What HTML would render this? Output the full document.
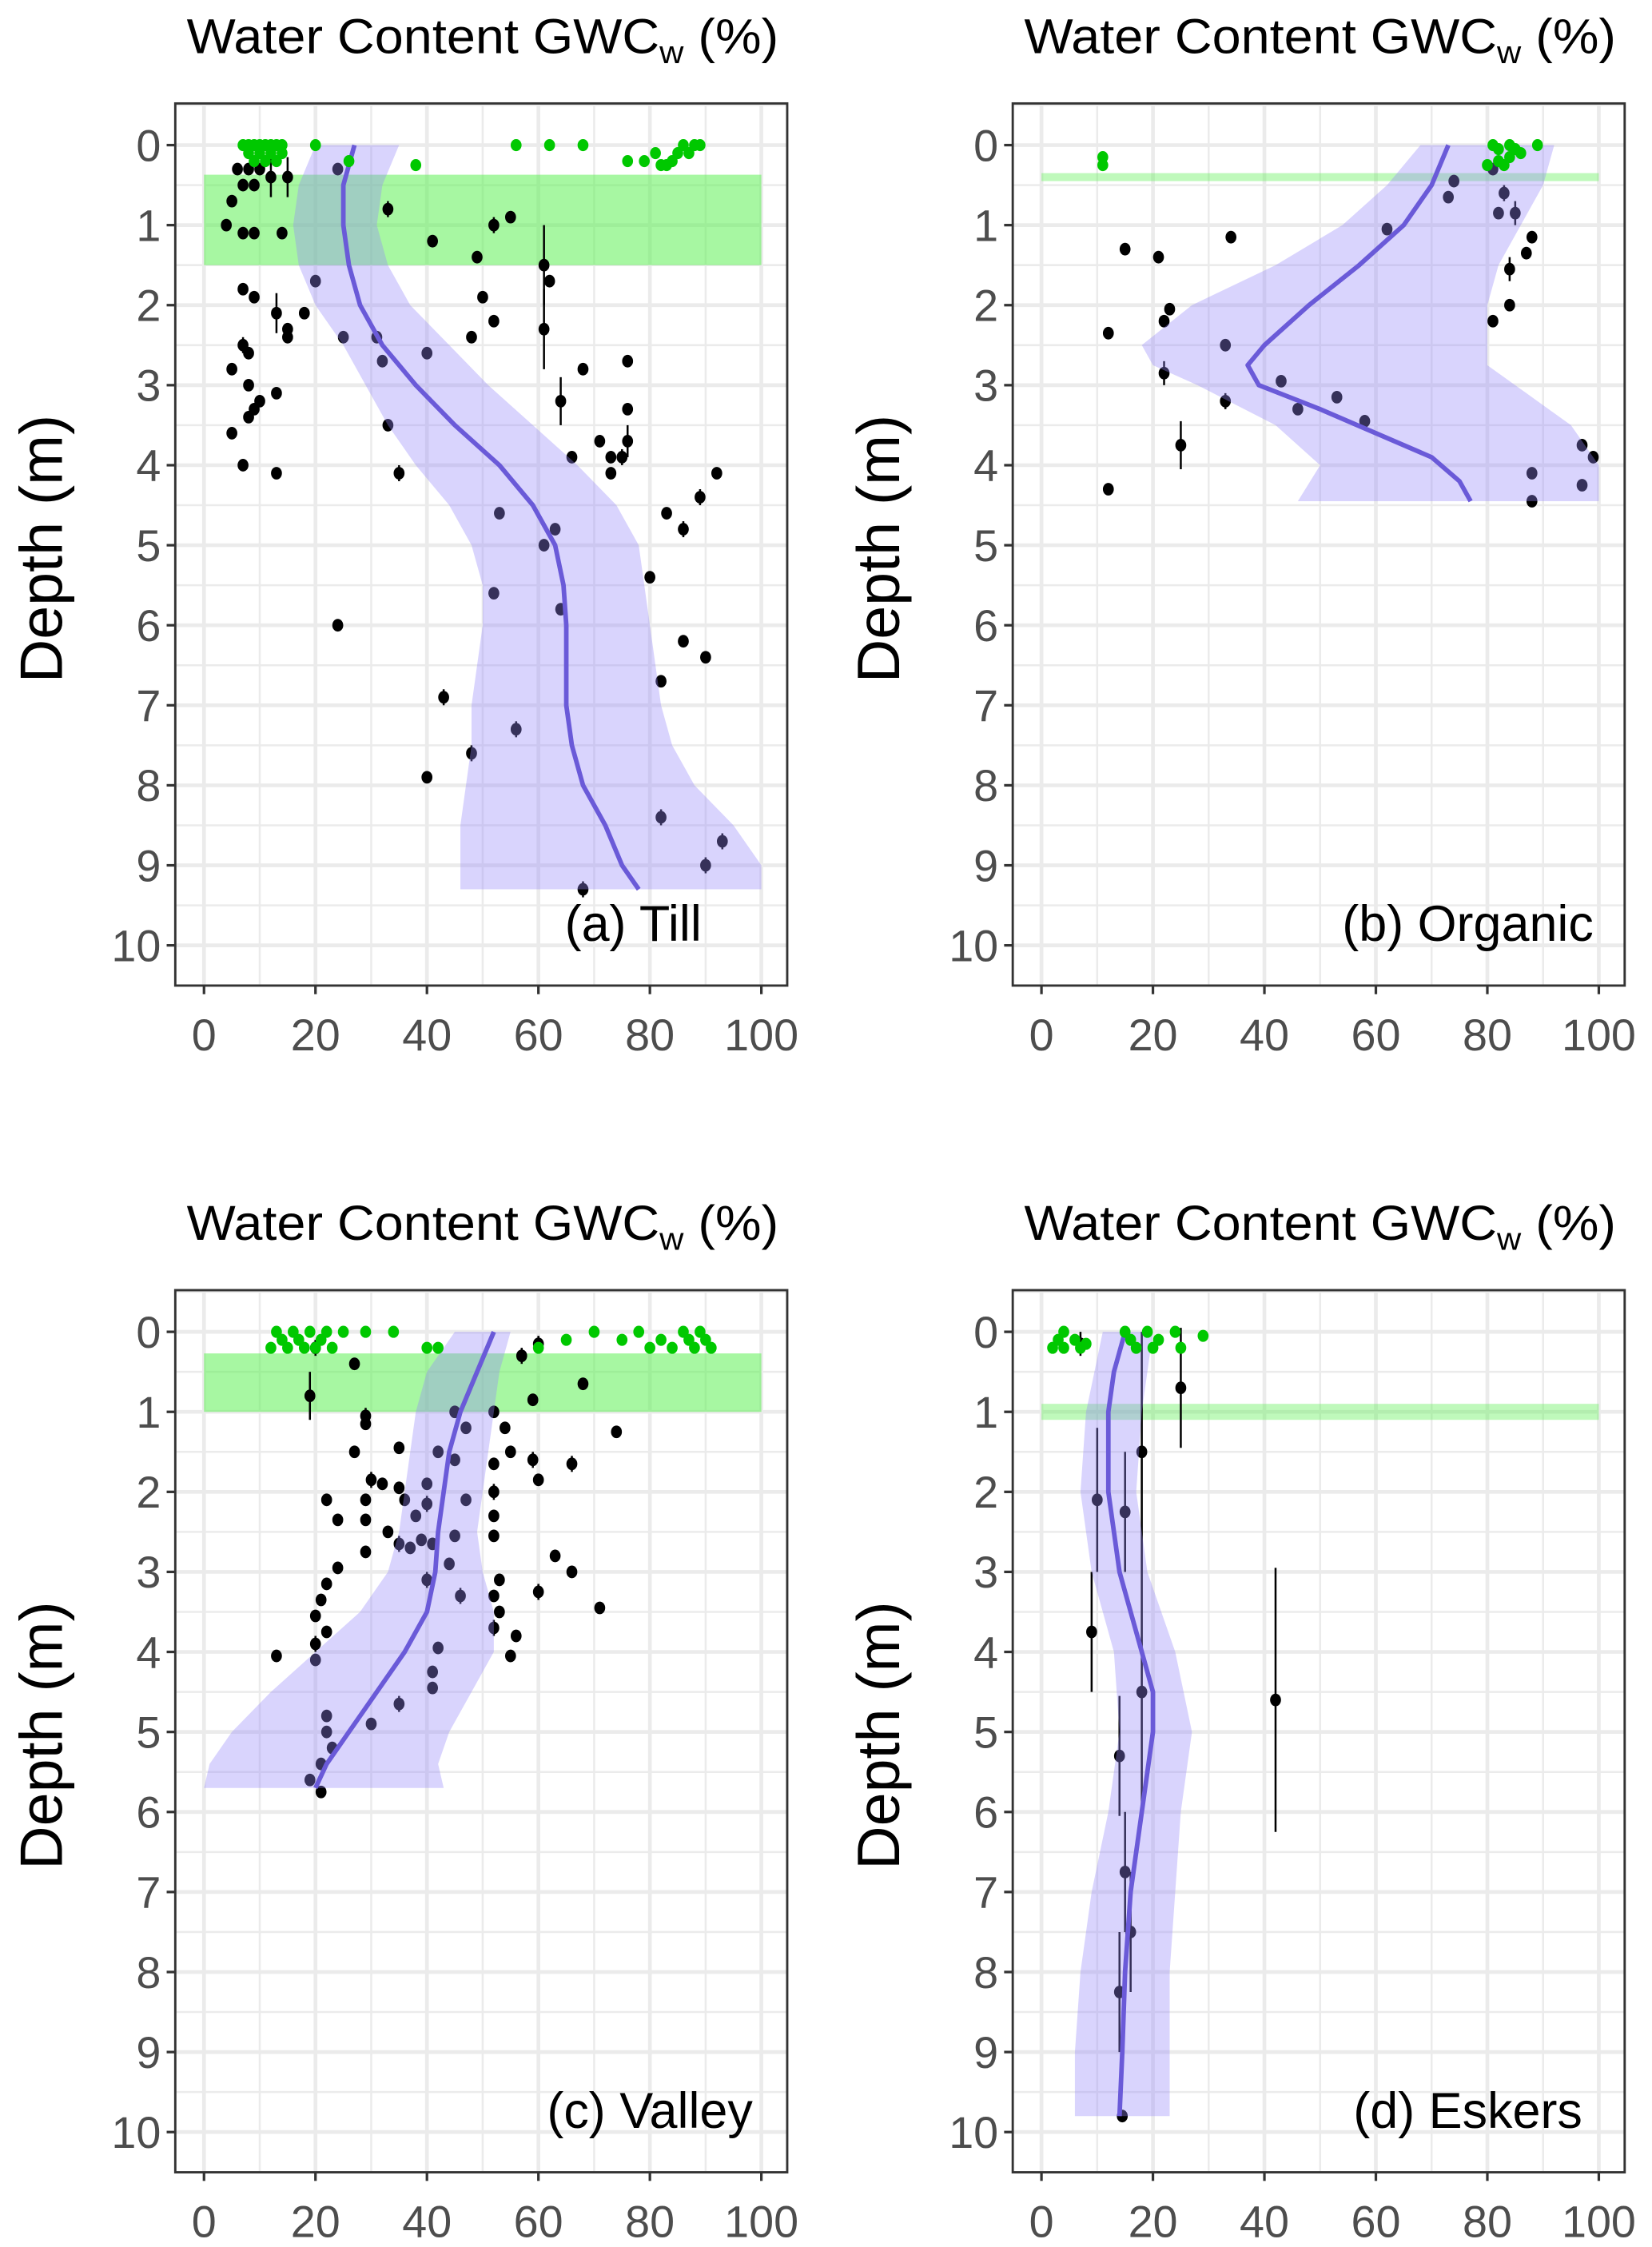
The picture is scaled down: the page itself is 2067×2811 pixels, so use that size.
<!DOCTYPE html>
<html><head><meta charset="utf-8"><style>
html,body{margin:0;padding:0;background:#fff;}
svg{display:block;}
text{font-family:"Liberation Sans",sans-serif;}
</style></head><body>
<svg id="fig" width="2067" height="2811" viewBox="0 0 1150 1564" xmlns="http://www.w3.org/2000/svg"></svg>
<script>
// ---- Panel (a) Till ----
const tillDepth = [0.3,0.3,0.3,0.4,0.7,0.5,0.5,0.4,1.0,1.1,1.1,1.1,0.3,0.8,1.2,1.4,1.0,0.9,1.5,1.7,2.3,1.8,1.9,2.1,2.3,2.4,2.1,1.7,2.4,2.4,2.7,2.6,2.4,1.9,2.2,2.5,2.6,2.8,3.0,3.3,3.2,3.1,3.4,3.6,4.0,4.1,3.5,4.1,3.2,2.8,2.7,3.3,3.7,3.7,3.9,3.9,3.9,4.1,4.1,4.4,4.6,4.8,4.6,5.0,4.8,5.4,5.6,5.8,6.0,6.2,6.4,6.7,6.9,7.3,7.6,7.9,8.4,8.7,9.0,9.3];
const tillGWC = [6,8,10,12,5,7,9,15,4,7,9,14,24,33,41,49,52,55,61,62,61,7,9,13,15,15,18,20,25,31,32,40,48,50,52,7,8,5,8,9,10,13,8,5,7,13,33,35,64,68,76,76,76,71,73,75,66,73,92,89,83,86,53,61,63,80,52,64,24,86,90,82,43,56,48,40,82,93,90,68];
const tillErr = [0,0,0,0.25,0,0,0,0.25,0,0,0,0,0,0.1,0,0,0.1,0,0.5,0,0.5,0,0,0.25,0,0,0,0,0,0,0,0,0,0,0,0.1,0,0,0,0,0,0,0,0,0,0,0,0.1,0.3,0,0,0,0.2,0,0,0.1,0,0,0,0.1,0,0.1,0,0,0,0,0,0,0,0,0,0,0.1,0.1,0.1,0,0.1,0.1,0.1,0.1];
const tillSurfGWC = [7,8,9,10,11,12,13,14,8,10,12,14,9,11,13,20,26,38,56,62,68,76,79,81,82,84,85,86,87,88,89,83];
const tillSurfDepth = [0,0,0,0,0,0,0,0,0.1,0.1,0.1,0.1,0.2,0.2,0.2,0,0.2,0.25,0,0,0,0.2,0.2,0.1,0.25,0.2,0.1,0,0.1,0,0,0.25];
const tillBand = [0.37,1.5];
const tillFitDepth = [0,0.5,1,1.5,2,2.5,3,3.5,4,4.5,5,5.5,6,6.5,7,7.5,8,8.5,9,9.3];
const tillFitGWC = [27,25,25,26,28,32,38,45,53,59,63,64.5,65,65,65,66,68,72,75,78];
const tillRibDepth = [0,0.5,1,1.5,2,2.5,3,3.5,4,4.5,5,5.5,6,6.5,7,7.5,8,8.5,9,9.3];
const tillRibLow = [20,17,16,17,20,25,29,33,38,44,48,50,50,49,48,48,47,46,46,46];
const tillRibHigh = [35,32,31,33,37,44,51,59,67,74,78,79,80,81,82,84,88,95,100,100];

// ---- Panel (b) Organic ----
const orgDepth = [0.3,0.6,0.85,0.85,1.15,1.35,1.55,2.0,2.2,0.45,0.65,1.05,1.15,1.3,1.4,2.05,2.2,2.35,2.5,2.85,2.95,3.15,3.2,3.3,3.45,3.75,3.75,3.9,4.1,4.25,4.3,4.45];
const orgGWC = [81,83,85,82,88,87,84,84,81,74,73,62,34,15,21,23,22,12,33,22,43,53,33,46,58,25,97,99,88,97,12,88];
const orgErr = [0,0.1,0.15,0,0,0,0.15,0,0,0,0,0,0,0,0,0,0,0,0,0.15,0,0,0.1,0,0,0.3,0,0,0,0,0,0];
const orgSurfGWC = [11,11,81,82,84,85,86,84,82,80,83,89];
const orgSurfDepth = [0.15,0.25,0,0.05,0,0.05,0.1,0.15,0.2,0.25,0.25,0];
const orgBand = [0.35,0.45];
const orgFitDepth = [0,0.5,1,1.5,2,2.5,2.75,3,3.3,3.6,3.9,4.2,4.45];
const orgFitGWC = [73,70,65,57,48,40,37,39,50,60,70,75,77];
const orgRibDepth = [0,0.5,1,1.5,2,2.5,2.75,3,3.5,4,4.45];
const orgRibLow = [68,62,54,42,27,18,20,28,42,50,46];
const orgRibHigh = [92,90,86,82,80,80,80,85,95,100,100];

// ---- Panel (c) Valley ----
const valDepth = [0.2,0.4,0.8,1.05,1.15,0.15,0.3,0.85,1.0,1.2,1.0,1.2,1.5,1.6,1.65,1.25,0.65,1.5,1.45,1.5,1.85,1.9,1.95,1.9,2.1,2.1,2.1,2.15,2.3,2.1,2.0,1.6,1.85,1.65,2.35,2.35,2.5,2.65,2.7,2.6,2.65,2.55,2.3,2.55,2.75,2.95,2.9,3.1,3.1,3.25,2.8,3.0,3.45,3.3,3.3,3.5,3.15,3.35,3.55,3.75,3.9,4.1,4.05,3.7,3.8,4.05,3.95,4.25,4.45,4.65,4.9,4.8,5.0,5.2,5.4,5.6,5.75];
const valGWC = [20,27,19,29,29,60,57,59,45,47,52,54,55,45,52,74,68,27,35,42,30,32,35,40,22,29,36,40,38,47,52,59,60,66,24,29,33,35,37,39,41,45,52,52,29,24,44,40,53,60,63,66,71,46,52,53,22,21,20,22,20,20,13,52,56,55,42,41,41,35,30,22,22,23,21,19,21];
const valErr = [0.1,0,0.3,0.1,0,0.1,0.1,0,0,0,0,0,0,0,0,0,0,0,0,0,0.1,0,0,0,0,0,0,0.1,0,0,0.1,0.1,0,0.1,0,0,0,0.1,0,0,0,0,0,0,0,0,0,0.1,0,0.1,0,0,0,0.1,0,0,0,0,0,0,0.1,0,0,0.1,0,0,0,0,0,0.1,0,0,0,0,0,0,0];
const valSurfGWC = [12,13,14,15,16,17,18,19,20,21,22,23,25,29,34,40,42,60,65,70,75,78,80,82,84,86,87,88,89,90,91];
const valSurfDepth = [0.2,0,0.1,0.2,0,0.1,0.2,0,0.2,0.1,0,0.2,0,0,0,0.2,0.2,0.2,0.1,0,0.1,0,0.2,0.1,0.2,0,0.1,0.2,0,0.1,0.2];
const valBand = [0.27,1.0];
const valFitDepth = [0,0.5,1,1.5,2,2.5,3,3.5,4,4.5,5,5.4,5.7];
const valFitGWC = [52,49,46,44,43,42,41.5,40,36,31,26,22,20];
const valRibDepth = [0,0.5,1,1.5,2,2.5,3,3.5,4,4.5,5,5.4,5.7];
const valRibLow = [45,40,38,37,36,35,33,28,20,12,5,1,0];
const valRibHigh = [55,53,52,51,50,49,50,52,52,48,44,42,43];

// ---- Panel (d) Eskers ----
const eskDepth = [0.15,0.7,1.5,2.1,2.25,3.75,4.5,4.6,5.3,6.75,7.5,8.25,9.8];
const eskGWC = [7,25,18,10,15,9,18,42,14,15,16,14,14.5];
const eskErr = [0.15,0.75,1.5,0.9,0.75,0.75,1.5,1.65,0.75,0.75,0.75,0.75,0];
const eskSurfGWC = [2,3,4,4,6,8,15,16,17,19,20,21,24,25,29,7];
const eskSurfDepth = [0.2,0.1,0,0.2,0.1,0.15,0,0.1,0.2,0,0.2,0.1,0,0.2,0.05,0.2];
const eskBand = [0.9,1.1];
const eskFitDepth = [0,0.5,1,1.5,2,2.5,3,3.5,4,4.5,5,5.5,6,6.5,7,7.5,8,9,9.8];
const eskFitGWC = [15,13,12,12,12,13,14,16,18,20,20,19,18,17,16,15.5,15,14.5,14];
const eskRibDepth = [0,1,2,3,4,5,6,7,8,9,9.8];
const eskRibLow = [11,8,7,9,13,14,12,9,7,6,6];
const eskRibHigh = [20,18,17,19,24,27,25,24,23,23,23];

const xTicks = [0,20,40,60,80,100];
const yTicks = [0,1,2,3,4,5,6,7,8,9,10];

const NS = "http://www.w3.org/2000/svg";
const svg = document.getElementById('fig');
function mk(tag, attrs, parent){
  const e = document.createElementNS(NS, tag);
  for (const k in attrs) e.setAttribute(k, attrs[k]);
  (parent||svg).appendChild(e);
  return e;
}

function panel(cfg){
  const {ox, oy, name, label, labelX, depth, gwc, err, sGwc, sDepth, band, fD, fG, rD, rL, rH} = cfg;
  const L = ox, R = ox + 426, T = oy, B = oy + 614;
  const x0 = ox + 20, x100 = ox + 408;
  const y0 = oy + 29, y10 = oy + 586;
  const sx = v => x0 + (x100 - x0) * v / 100;
  const sy = d => y0 + (y10 - y0) * d / 10;
  const g = mk('g', {});
  
  
  const t = mk('text', {x: ox + 214, y: oy - 35, 'font-size': 34, 'text-anchor': 'middle', fill: '#000', textLength: 412, lengthAdjust: 'spacingAndGlyphs'}, g);
  
  
  t.innerHTML = 'Water Content GWC<tspan font-size="22" dy="7">w</tspan><tspan dy="-7"> (%)</tspan>';
  const grid = mk('g', {}, g);
  
  
  for (let v = 0; v <= 100; v += 10) {
    mk('line', {x1: sx(v), x2: sx(v), y1: T, y2: B, stroke: '#ebebeb', 'stroke-width': v % 20 === 0 ? 2.6 : 1.4}, grid);
  }
  for (let d = -0.5; d <= 10.5; d += 0.5) {
    mk('line', {x1: L, x2: R, y1: sy(d), y2: sy(d), stroke: '#ebebeb', 'stroke-width': d % 1 === 0 ? 2.6 : 1.4}, grid);
  }
  const bandEl = mk('rect', {x: sx(0), y: sy(band[0]), width: sx(100) - sx(0), height: sy(band[1]) - sy(band[0]), fill: 'rgb(95,240,85)', 'fill-opacity': band[1]-band[0] < 0.3 ? 0.4 : 0.55}, g);
  
  
  for (let i = 0; i < depth.length; i++) {
    if (err[i] > 0) {
      const eb = mk('line', {x1: sx(gwc[i]), x2: sx(gwc[i]), y1: sy(depth[i] - err[i]), y2: sy(depth[i] + err[i]), stroke: '#000', 'stroke-width': 1.4}, g);
      
      
    }
    const p = mk('ellipse', {cx: sx(gwc[i]), cy: sy(depth[i]), rx: 3.8, ry: 4.4, fill: '#000'}, g);
    
    
  }
  let pts = [];
  for (let i = 0; i < rD.length; i++) pts.push(sx(rL[i]) + ',' + sy(rD[i]));
  for (let i = rD.length - 1; i >= 0; i--) pts.push(sx(Math.min(rH[i],100)) + ',' + sy(rD[i]));
  const rib = mk('polygon', {points: pts.join(' '), fill: 'rgb(150,135,250)', 'fill-opacity': 0.36}, g);
  
  
  let lp = [];
  for (let i = 0; i < fD.length; i++) lp.push(sx(fG[i]) + ',' + sy(fD[i]));
  const fl = mk('polyline', {points: lp.join(' '), fill: 'none', stroke: '#6a5ad8', 'stroke-width': 3.2, 'stroke-linejoin': 'round'}, g);
  
  
  for (let i = 0; i < sGwc.length; i++) {
    const p = mk('ellipse', {cx: sx(sGwc[i]), cy: sy(sDepth[i]), rx: 3.8, ry: 4.2, fill: '#00c800'}, g);
    
    
  }
  mk('rect', {x: L, y: T, width: R - L, height: B - T, fill: 'none', stroke: '#333', 'stroke-width': 1.6}, g);
  for (const d of yTicks) {
    mk('line', {x1: L - 6, x2: L, y1: sy(d), y2: sy(d), stroke: '#333', 'stroke-width': 1.8}, g);
    const tl = mk('text', {x: L - 10, y: sy(d) + 11, 'font-size': 31, 'text-anchor': 'end', fill: '#4d4d4d'}, g);
    
    
    tl.textContent = d;
  }
  for (const v of xTicks) {
    mk('line', {x1: sx(v), x2: sx(v), y1: B, y2: B + 6, stroke: '#333', 'stroke-width': 1.8}, g);
    const tl = mk('text', {x: sx(v), y: B + 45, 'font-size': 31, 'text-anchor': 'middle', fill: '#4d4d4d'}, g);
    
    
    tl.textContent = v;
  }
  const yt = mk('text', {x: 0, y: 0, 'font-size': 42, 'text-anchor': 'middle', fill: '#000', transform: 'translate(' + (ox - 79) + ',' + (oy + 310) + ') rotate(-90)'}, g);
  
  
  yt.textContent = 'Depth (m)';
  const pl = mk('text', {x: sx(labelX), y: sy(10) - 3, 'font-size': 35, 'text-anchor': 'middle', fill: '#000'}, g);
  
  
  pl.textContent = label;
}

panel({ox:122, oy:72, name:'till', label:'(a) Till', labelX:77, depth:tillDepth, gwc:tillGWC, err:tillErr, sGwc:tillSurfGWC, sDepth:tillSurfDepth, band:tillBand, fD:tillFitDepth, fG:tillFitGWC, rD:tillRibDepth, rL:tillRibLow, rH:tillRibHigh});
panel({ox:705, oy:72, name:'organic', label:'(b) Organic', labelX:76.5, depth:orgDepth, gwc:orgGWC, err:orgErr, sGwc:orgSurfGWC, sDepth:orgSurfDepth, band:orgBand, fD:orgFitDepth, fG:orgFitGWC, rD:orgRibDepth, rL:orgRibLow, rH:orgRibHigh});
panel({ox:122, oy:898, name:'valley', label:'(c) Valley', labelX:80, depth:valDepth, gwc:valGWC, err:valErr, sGwc:valSurfGWC, sDepth:valSurfDepth, band:valBand, fD:valFitDepth, fG:valFitGWC, rD:valRibDepth, rL:valRibLow, rH:valRibHigh});
panel({ox:705, oy:898, name:'eskers', label:'(d) Eskers', labelX:76.5, depth:eskDepth, gwc:eskGWC, err:eskErr, sGwc:eskSurfGWC, sDepth:eskSurfDepth, band:eskBand, fD:eskFitDepth, fG:eskFitGWC, rD:eskRibDepth, rL:eskRibLow, rH:eskRibHigh});
</script>
</body></html>
